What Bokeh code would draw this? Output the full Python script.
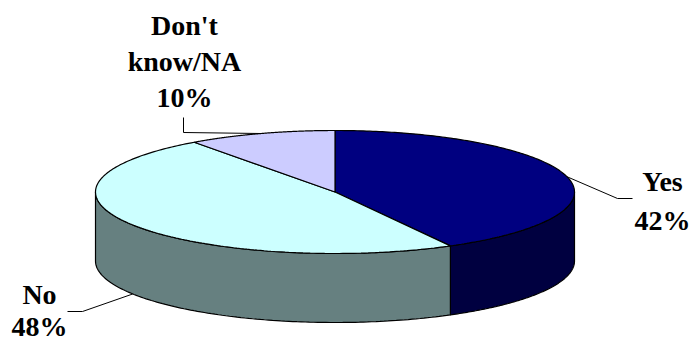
import numpy as np
from bokeh.plotting import figure
from bokeh.models import Range1d
from bokeh.embed import file_html
from bokeh.resources import INLINE
from bokeh.core.properties import value

# Survey answers (percent of respondents)
categories = ["Yes", "No", "Don't know/NA"]
shares = [42, 48, 10]
name_lines = [["Yes"], ["No"], ["Don't", "know/NA"]]
top_colors = ["#000080", "#CCFFFF", "#CCCCFF"]
side_colors = ["#000040", "#668080", "#66669A"]

# Label placement: centre x, first baseline, line step
label_pos = [(662, 181, 39), (39, 294, 32), (184, 25, 36)]
# Leader line elbows near each label (elbow, end)
leader_elbows = [[(617, 198), (632, 198)],
                 [(82, 311), (67, 311)],
                 [(183, 132), (183, 117)]]
leader_on_base = [False, True, False]

W, H = 691, 343
CX, CY, RX, RY, DEPTH = 334.5, 191.5, 239.5, 61.5, 69


def rim(theta, drop=0.0):
    """Point on the pie's rim, angle in degrees clockwise from 12 o'clock."""
    t = np.radians(theta)
    return CX + RX * np.sin(t), CY - RY * np.cos(t) + drop


p = figure(width=W, height=H, output_backend="svg", toolbar_location=None,
           x_axis_location=None, y_axis_location=None, min_border=0,
           x_range=Range1d(0, W), y_range=Range1d(H, 0))
p.grid.visible = False
p.outline_line_color = None
p.background_fill_color = "white"
p.border_fill_color = "white"

total = float(sum(shares))
bounds = np.concatenate([[0.0], np.cumsum(shares) / total * 360.0])

# Side walls: only the front half of the rim (90..270 deg) faces the viewer
side_xs, side_ys, side_fill = [], [], []
for i in range(len(shares)):
    a, b = max(bounds[i], 90.0), min(bounds[i + 1], 270.0)
    if b <= a:
        continue
    th = np.linspace(a, b, 120)
    tx, ty = rim(th)
    bx, by = rim(th[::-1], DEPTH)
    side_xs.append(list(tx) + list(bx))
    side_ys.append(list(ty) + list(by))
    side_fill.append(side_colors[i])
p.patches(side_xs, side_ys, fill_color=side_fill, line_color="black", line_width=1.2)

# Top faces
top_xs, top_ys = [], []
for i in range(len(shares)):
    th = np.linspace(bounds[i], bounds[i + 1], 200)
    tx, ty = rim(th)
    top_xs.append([CX] + list(tx))
    top_ys.append([CY] + list(ty))
p.patches(top_xs, top_ys, fill_color=top_colors, line_color="black", line_width=1.2)

# Leader lines from each slice's mid-angle to its label
for i in range(len(shares)):
    mid = (bounds[i] + bounds[i + 1]) / 2.0
    sx, sy = rim(mid, DEPTH if leader_on_base[i] else 0.0)
    xs = [float(sx)] + [e[0] for e in leader_elbows[i]]
    ys = [float(sy)] + [e[1] for e in leader_elbows[i]]
    p.line(xs, ys, line_color="black", line_width=1)

# Labels: category name lines followed by the share
lx, ly, lt = [], [], []
for i in range(len(shares)):
    x0, y0, step = label_pos[i]
    lines = name_lines[i] + [f"{shares[i]}%"]
    for k, s in enumerate(lines):
        lx.append(x0)
        ly.append(y0 + k * step)
        lt.append(s)
p.text(lx, ly, text=lt, text_font=value("Liberation Serif"), text_font_style="bold",
       text_font_size="28px", text_align="center", text_baseline="alphabetic",
       text_color="black")

open("out.html", "w").write(file_html(p, INLINE))
